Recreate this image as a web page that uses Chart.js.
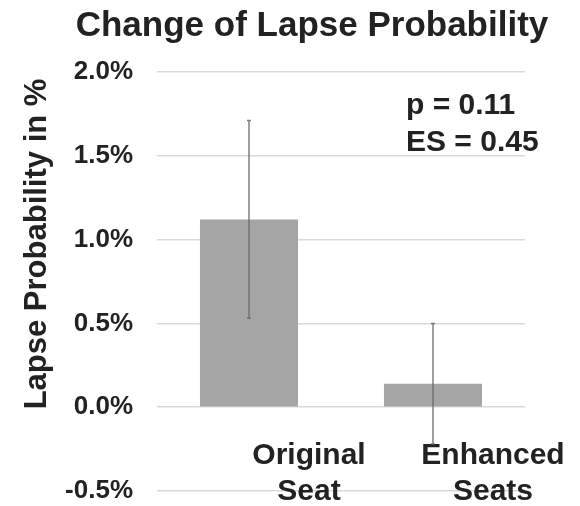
<!DOCTYPE html>
<html>
<head>
<meta charset="utf-8">
<script src="https://cdn.jsdelivr.net/npm/chart.js"></script>
<style>
  html, body { margin: 0; padding: 0; background: #fff; }
  #wrap { width: 580px; height: 506px; }
</style>
</head>
<body>
<div id="wrap"><canvas id="myChart"></canvas></div>
<script>
const categories = [['Original', 'Seat'], ['Enhanced', 'Seats']]
const lapseValues = [1.12, 0.14]
const errorMargins = [0.59, 0.36]
const yTicks = [-0.5, 0, 0.5, 1.0, 1.5, 2.0]
const statLines = ['p = 0.11', 'ES = 0.45']
const chartTitle = 'Change of Lapse Probability'
const yTitle = 'Lapse Probability in %'

const textColor = '#222'
const fontFamily = "'Liberation Sans', Arial, Helvetica, sans-serif"

// error bars on top of the bars
const errorBars = {
  id: 'errorBars',
  afterDatasetsDraw(chart) {
    const { ctx } = chart
    const y = chart.scales.y
    const meta = chart.getDatasetMeta(0)
    ctx.save()
    ctx.strokeStyle = 'rgba(105,105,105,0.85)'
    ctx.lineWidth = 1.5
    meta.data.forEach((bar, i) => {
      const top = y.getPixelForValue(lapseValues[i] + errorMargins[i])
      const bottom = y.getPixelForValue(lapseValues[i] - errorMargins[i])
      ctx.beginPath()
      ctx.moveTo(bar.x, top)
      ctx.lineTo(bar.x, bottom)
      ctx.moveTo(bar.x - 2, top)
      ctx.lineTo(bar.x + 2, top)
      ctx.moveTo(bar.x - 2, bottom)
      ctx.lineTo(bar.x + 2, bottom)
      ctx.stroke()
    })
    ctx.restore()
  }
}

// title, rotated axis title and the stats note
const texts = {
  id: 'texts',
  afterDraw(chart) {
    const { ctx } = chart
    ctx.save()
    ctx.fillStyle = textColor
    ctx.textBaseline = 'alphabetic'

    ctx.font = `bold 35px ${fontFamily}`
    ctx.textAlign = 'center'
    ctx.fillText(chartTitle, 312, 36)

    ctx.font = `bold 30px ${fontFamily}`
    ctx.textAlign = 'left'
    ctx.fillText(statLines[0], 406, 114)
    ctx.fillText(statLines[1], 406, 151)

    ctx.translate(46, 244)
    ctx.rotate(-Math.PI / 2)
    ctx.font = `bold 31px ${fontFamily}`
    ctx.textAlign = 'center'
    ctx.fillText(yTitle, 0, 0)
    ctx.restore()
  }
}

const ctx = document.getElementById('myChart')

Chart.defaults.color = textColor
Chart.defaults.font.family = fontFamily
Chart.defaults.font.weight = 'bold'

new Chart(ctx, {
  type: 'bar',
  data: {
    labels: categories,
    datasets: [{
      data: lapseValues,
      backgroundColor: '#a5a5a5',
      borderWidth: 0,
      barPercentage: 0.533,
      categoryPercentage: 1
    }]
  },
  options: {
    responsive: true,
    maintainAspectRatio: false,
    animation: false,
    layout: { padding: { top: 72, right: 55, bottom: 15, left: 65 } },
    plugins: {
      legend: { display: false },
      tooltip: { enabled: false },
      title: { display: false }
    },
    scales: {
      x: {
        position: { y: 0 },
        grid: { display: false, drawTicks: false },
        border: { display: false },
        ticks: {
          font: { size: 30, weight: 'bold', lineHeight: 1.22 },
          color: textColor,
          labelOffset: 60,
          padding: 30,
          maxRotation: 0,
          autoSkip: false
        }
      },
      y: {
        min: yTicks[0],
        max: yTicks[yTicks.length - 1],
        afterBuildTicks: (scale) => { scale.ticks = yTicks.map(v => ({ value: v })) },
        afterFit: (scale) => {
          scale.width = 92
          scale.paddingTop = 0
          scale.paddingBottom = 0
        },
        grid: { color: '#d9d9d9', lineWidth: 1.5, drawTicks: false },
        border: { display: false },
        ticks: {
          font: { size: 26, weight: 'bold' },
          color: textColor,
          padding: 24,
          callback: (v) => Number(v).toFixed(1) + '%'
        }
      }
    }
  },
  plugins: [errorBars, texts]
})
</script>
</body>
</html>
